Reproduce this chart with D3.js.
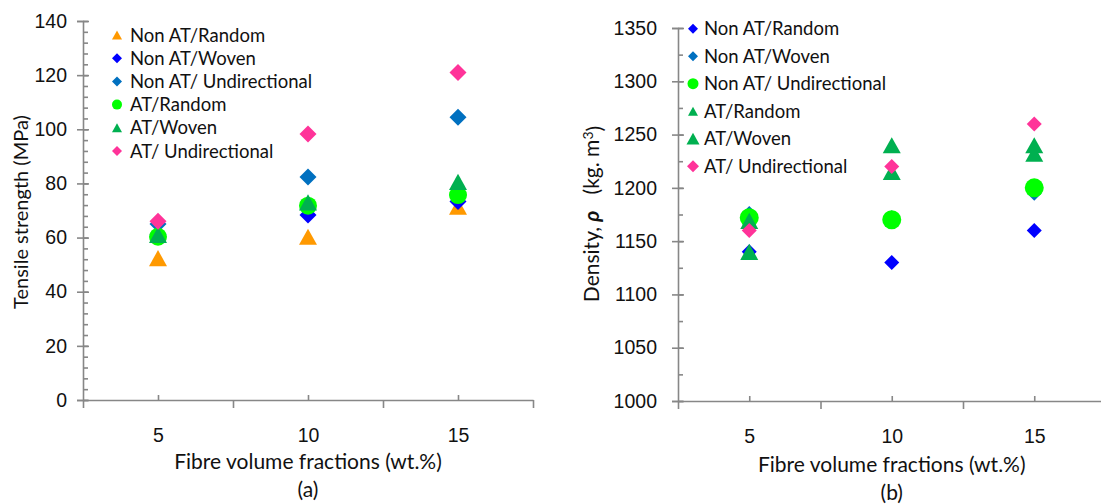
<!DOCTYPE html>
<html>
<head>
<meta charset="utf-8">
<script src="https://cdn.jsdelivr.net/npm/d3@7"></script>
<style>
  body { margin: 0; background: #fff; }
  svg { display: block; font-family: Lato, "Open Sans", sans-serif; }
  .tick text { font-size: 19.5px; fill: #111; }
  .domain, .tick line { stroke: #878787; stroke-width: 1.6px; }
</style>
</head>
<body>
<svg id="chart" width="1101" height="504"></svg>
<script>
// fibre volume fractions (wt.%)
var fractions = [5, 10, 15];

// (a) tensile strength, MPa
var tensileNames = ['Non AT/Random', 'Non AT/Woven', 'Non AT/ Undirectional', 'AT/Random', 'AT/Woven', 'AT/ Undirectional'];
var tensileNonATRandom = [52.4, 60.3, 71.4];
var tensileNonATWoven = [61, 68.3, 73.3];
var tensileNonATUnidir = [65, 82.4, 104.4];
var tensileATRandom = [60.3, 71.8, 75.7];
var tensileATWoven = [61, 73, 80.6];
var tensileATUnidir = [66, 98.3, 121];
var tensileTicks = [0, 20, 40, 60, 80, 100, 120, 140];

// (b) density, kg/m3
var densityNames = ['Non AT/Random', 'Non AT/Woven', 'Non AT/ Undirectional', 'AT/Random', 'AT/Woven', 'AT/ Undirectional'];
var densityNonATRandom = [1140, 1130, 1160];
var densityNonATWoven = [1176, 1172, 1195];
var densityNonATUnidir = [1172, 1170, 1200];
var densityATRandom = [1169, 1215, 1232];
var densityATWoven = [1140, 1240, 1240];
var densityATUnidir = [1160, 1220, 1260];
var densityTicks = [1000, 1050, 1100, 1150, 1200, 1250, 1300, 1350];

// marker shapes and colours per series
var tensileMarks = [
  {shape: 'triangle', color: '#ff9900', size: 18, key: 10},
  {shape: 'diamond', color: '#0000ff', size: 17, key: 10},
  {shape: 'diamond', color: '#0070c0', size: 17, key: 10},
  {shape: 'circle', color: '#00ff00', size: 18, key: 10},
  {shape: 'triangle', color: '#00b050', size: 18, key: 10},
  {shape: 'diamond', color: '#ff3399', size: 17, key: 10}
];
var densityMarks = [
  {shape: 'diamond', color: '#0000ff', size: 15, key: 10},
  {shape: 'diamond', color: '#0070c0', size: 15, key: 10},
  {shape: 'circle', color: '#00ff00', size: 19, key: 11},
  {shape: 'triangle', color: '#00b050', size: 18, key: 10},
  {shape: 'triangle', color: '#00b050', size: 18, key: 13},
  {shape: 'diamond', color: '#ff3399', size: 15, key: 12}
];

function markerPath(shape, s) {
    var h = s / 2;
    if(shape === 'diamond')
        return 'M0,' + (-h) + 'L' + h + ',0L0,' + h + 'L' + (-h) + ',0Z';
    if(shape === 'triangle') {
        var th = s * 0.9 / 2;
        return 'M0,' + (-th) + 'L' + h + ',' + th + 'L' + (-h) + ',' + th + 'Z';
    }
    return d3.symbol(d3.symbolCircle, Math.PI * h * h)();
}

var svg = d3.select('#chart');

function drawPanel(opts) {
    var x = d3.scaleLinear().domain([2.5, 17.5]).range(opts.xRange);
    var y = d3.scaleLinear().domain(opts.yDomain).range(opts.yRange);
    var g = svg.append('g');
    var x0 = opts.xRange[0], y0 = opts.yRange[0];

    // y axis: labels and outer half of major ticks
    g.append('g').attr('transform', 'translate(' + x0 + ',0)')
        .call(d3.axisLeft(y).tickValues(opts.yTicks).tickSize(6).tickPadding(opts.yPad).tickFormat(d3.format('d')));
    // inner half of major ticks
    g.append('g').attr('transform', 'translate(' + x0 + ',0)')
        .call(d3.axisRight(y).tickValues(opts.yTicks).tickSize(6).tickFormat(''))
        .select('.domain').remove();
    // minor ticks inside
    g.append('g').attr('transform', 'translate(' + x0 + ',0)')
        .call(d3.axisRight(y).tickValues(opts.yMinor).tickSize(5).tickFormat(''))
        .select('.domain').remove();

    // x axis: major ticks between the groups, minor ticks at the groups
    g.append('g').attr('transform', 'translate(0,' + y0 + ')')
        .call(d3.axisBottom(x).tickValues([2.5, 7.5, 12.5, 17.5]).tickSize(8).tickFormat('').tickSizeOuter(0));
    g.append('g').attr('transform', 'translate(0,' + y0 + ')')
        .call(d3.axisTop(x).tickValues(fractions).tickSize(5).tickFormat(''))
        .select('.domain').remove();
    g.append('g').attr('transform', 'translate(0,' + y0 + ')')
        .call(d3.axisBottom(x).tickValues(fractions).tickSize(0).tickPadding(28))
        .call(function(a) { a.select('.domain').remove(); });

    // points
    opts.series.forEach(function(vals, i) {
        var m = opts.marks[i];
        g.append('g').selectAll('path').data(vals).enter().append('path')
            .attr('transform', function(v, j) { return 'translate(' + x(fractions[j]) + ',' + y(v) + ')'; })
            .attr('d', markerPath(m.shape, m.size))
            .attr('fill', m.color);
    });

    // legend
    var leg = g.append('g').selectAll('g').data(opts.names).enter().append('g')
        .attr('transform', function(d, i) { return 'translate(' + opts.legX + ',' + (opts.legY + i * opts.legStep) + ')'; });
    leg.append('path')
        .attr('d', function(d, i) { return markerPath(opts.marks[i].shape, opts.marks[i].key); })
        .attr('fill', function(d, i) { return opts.marks[i].color; });
    leg.append('text')
        .attr('x', opts.legText).attr('dy', '0.36em')
        .style('font-size', '18.5px').attr('fill', '#111')
        .text(function(d) { return d; });

    // titles
    g.append('text').attr('x', x(10)).attr('y', opts.xTitleY)
        .attr('text-anchor', 'middle').style('font-size', '21px').attr('fill', '#111')
        .text('Fibre volume fractions (wt.%)');
    g.append('text').attr('x', x(10)).attr('y', opts.xTitleY + 28)
        .attr('text-anchor', 'middle').style('font-size', '21px').attr('fill', '#111')
        .text(opts.panel);
    var yt = g.append('text')
        .attr('transform', 'translate(' + opts.yTitleX + ',' + opts.yTitleY + ') rotate(-90)')
        .attr('text-anchor', 'middle').style('font-size', opts.yTitleSize).attr('fill', '#111');
    opts.yTitle(yt);
}

drawPanel({
    xRange: [83, 533], yDomain: [0, 140], yRange: [400, 21],
    yTicks: tensileTicks, yMinor: d3.range(0, 141, 4), yPad: 10,
    series: [tensileNonATRandom, tensileNonATWoven, tensileNonATUnidir, tensileATRandom, tensileATWoven, tensileATUnidir],
    marks: tensileMarks, names: tensileNames,
    legX: 117, legY: 35, legStep: 23.2, legText: 13,
    xTitleY: 469, panel: '(a)',
    yTitleX: 28, yTitleY: 212, yTitleSize: '20px',
    yTitle: function(t) { t.text('Tensile strength (MPa)'); }
});

drawPanel({
    xRange: [678, 1105.5], yDomain: [1000, 1350], yRange: [401, 28],
    yTicks: densityTicks, yMinor: d3.range(1000, 1351, 25), yPad: 15,
    series: [densityNonATRandom, densityNonATWoven, densityNonATUnidir, densityATRandom, densityATWoven, densityATUnidir],
    marks: densityMarks, names: densityNames,
    legX: 693, legY: 28.7, legStep: 27.5, legText: 11,
    xTitleY: 472, panel: '(b)',
    yTitleX: 599, yTitleY: 214, yTitleSize: '21px',
    yTitle: function(t) {
        t.style('white-space', 'pre');
        t.append('tspan').text('Density, ');
        t.append('tspan').style('font-weight', 'bold').style('font-style', 'italic').text('\u03c1');
        t.append('tspan').text('   (kg. m');
        t.append('tspan').attr('dy', '-0.45em').style('font-size', '14px').text('3');
        t.append('tspan').attr('dy', '0.45em').text(')');
    }
});
</script>
</body>
</html>
